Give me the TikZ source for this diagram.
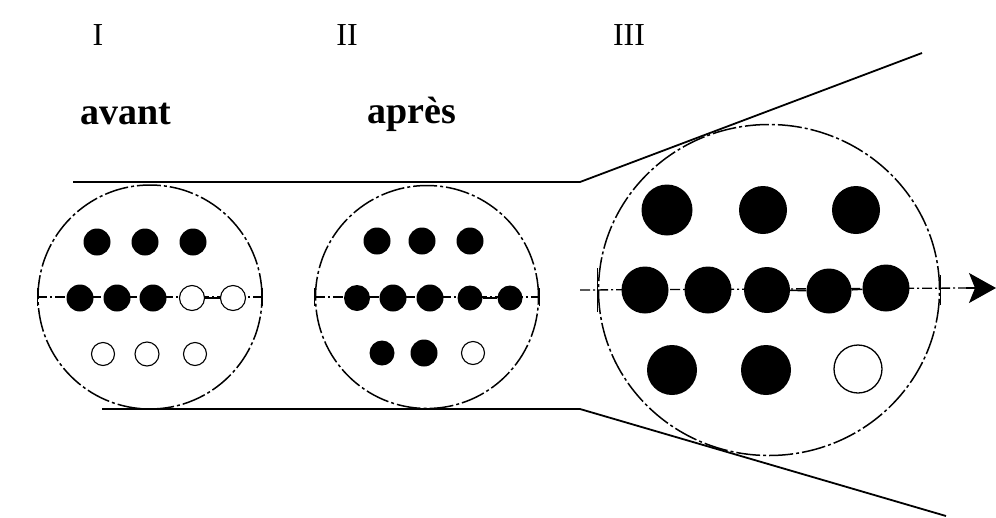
\documentclass[tikz,border=0pt]{standalone}
\usepackage{fontspec}
\setmainfont{Liberation Serif}
\usetikzlibrary{arrows.meta,shapes.geometric}
\begin{document}
\begin{tikzpicture}[x=1pt,y=-1pt,
 lens/.style={draw, line width=1.5pt, dash pattern=on 24pt off 3pt on 3pt off 3pt, inner sep=0pt},
 fdot/.style={circle, fill=black, inner sep=0pt, minimum size=#1},
 odot/.style={circle, draw, line width=1.1pt, fill=white, inner sep=0pt, minimum size=#1},
 axisline/.style={line width=1.3pt, dash pattern=on 10pt off 3pt on 2pt off 3pt},
 bond/.style={line width=1.5pt},
 tickmark/.style={line width=1.4pt},
 beam/.style={line width=1.8pt},
 num/.style={font=\fontsize{32}{36}\selectfont, anchor=base, inner sep=0pt},
 lab/.style={font=\fontsize{38}{44}\selectfont\bfseries, anchor=base, inner sep=0pt}
]
\useasboundingbox (0,0) rectangle (996,517);
\fill[white] (0,0) rectangle (996,517);

% labels
\node[num] (n1) at (98,45) {I};
\node[num] (n2) at (347,45) {II};
\node[num] (n3) at (629,45) {III};
\node[lab] (l1) at (126,124) {avant};
\node[lab] (l2) at (412,123) {après};

% beam outline
\coordinate (t0) at (73,182);
\coordinate (tk) at (580,182);
\coordinate (te) at (922,53);
\coordinate (b0) at (102,409);
\coordinate (bk) at (580,409);
\coordinate (be) at (946,516);
\draw[beam] (t0) -- (tk) -- (te);
\draw[beam] (b0) -- (bk) -- (be);

% lenses
\node[lens, circle, minimum size=224pt] (C1) at (150,297) {};
\node[lens, circle, minimum size=223pt] (C2) at (427,297) {};
\node[lens, ellipse, minimum width=341pt, minimum height=331pt] (C3) at (769,290) {};

% axes
\draw[axisline] (C1.west) -- (C1.east);
\draw[tickmark] ([yshift=-9pt]C1.west) -- ([yshift=9pt]C1.west);
\draw[tickmark] ([yshift=-9pt]C1.east) -- ([yshift=9pt]C1.east);
\draw[axisline] (C2.west) -- (C2.east);
\draw[tickmark] ([yshift=-9pt]C2.west) -- ([yshift=9pt]C2.west);
\draw[tickmark] ([yshift=-9pt]C2.east) -- ([yshift=9pt]C2.east);
\coordinate (ax0) at (580,290);
\coordinate (axh) at (970,288);
\coordinate (ax1) at (996,288);
\draw[axisline] (ax0) -- (axh);
\draw[line width=1.3pt, -{Stealth[length=27pt,width=30pt,inset=6pt]}] ([xshift=-4pt]axh) -- (ax1);
\draw[tickmark] ([yshift=-22pt]C3.west) -- ([yshift=22pt]C3.west);
\draw[tickmark] ([yshift=-15pt]C3.east) -- ([yshift=15pt]C3.east);

% lens I
\node[fdot=27pt] (a1) at (97,242) {};
\node[fdot=27pt] (a2) at (145,242) {};
\node[fdot=27pt] (a3) at (193,242) {};
\node[fdot=27pt] (a4) at (80,298) {};
\node[fdot=27pt] (a5) at (117,298) {};
\node[fdot=27pt] (a6) at (153,298) {};
\node[odot=25pt] (a7) at (192,298) {};
\node[odot=25pt] (a8) at (233,298) {};
\node[odot=23pt] (a9) at (103,354) {};
\node[odot=24pt] (a10) at (147,354) {};
\node[odot=23pt] (a11) at (195,354) {};
\draw[bond] (a7) -- (a8);

% lens II
\node[fdot=27pt] (b1) at (377,241) {};
\node[fdot=27pt] (b2) at (422,241) {};
\node[fdot=27pt] (b3) at (470,241) {};
\node[fdot=26pt] (b4) at (357,298) {};
\node[fdot=27pt] (b5) at (393,298) {};
\node[fdot=27pt] (b6) at (430,298) {};
\node[fdot=25pt] (b7) at (470,298) {};
\node[fdot=25pt] (b8) at (510,298) {};
\node[fdot=25pt] (b9) at (382,353) {};
\node[fdot=27pt] (b10) at (424,353) {};
\node[odot=23pt] (b11) at (473,353) {};
\draw[bond] (b7) -- (b8);

% lens III
\node[fdot=51pt] (c1) at (667,210) {};
\node[fdot=48pt] (c2) at (763,210) {};
\node[fdot=48pt] (c3) at (856,210) {};
\node[fdot=47pt] (c4) at (645,290) {};
\node[fdot=47pt] (c5) at (708,290) {};
\node[fdot=46pt] (c6) at (767,290) {};
\node[fdot=45pt] (c7) at (829,291) {};
\node[fdot=47pt] (c8) at (886,288) {};
\node[fdot=50pt] (c9) at (672,370) {};
\node[fdot=50pt] (c10) at (766,370) {};
\node[odot=48pt, line width=1.3pt] (c11) at (858,369) {};
\draw[bond] (c6) -- (c7);
\draw[bond] (c7) -- (c8);
\end{tikzpicture}
\end{document}
